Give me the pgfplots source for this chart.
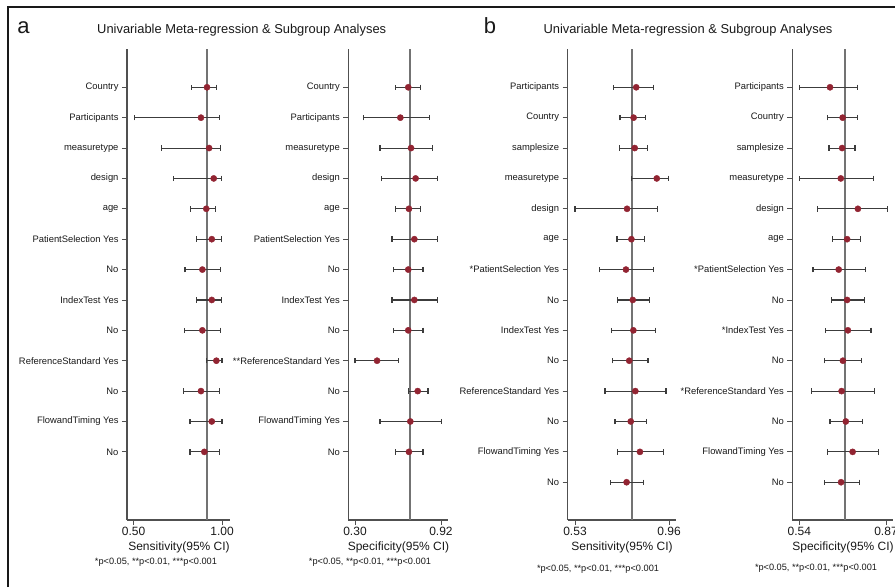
\documentclass[border=0pt]{standalone}
\usepackage{pgfplots}
\pgfplotsset{compat=1.18}
\usepackage{pgfplotstable}
\usepackage{fontspec}
\setmainfont{Liberation Sans}
\definecolor{mkred}{RGB}{146,36,50}
\definecolor{ebgray}{RGB}{60,60,60}
\definecolor{axgray}{RGB}{80,80,80}
\definecolor{refgray}{RGB}{115,115,115}
\definecolor{txt}{RGB}{25,25,25}

\pgfplotstableread{
row est lo hi
1 0.915 0.829 0.968
2 0.881 0.505 0.985
3 0.927 0.659 0.993
4 0.953 0.725 0.996
5 0.911 0.823 0.964
6 0.942 0.857 0.999
7 0.889 0.791 0.990
8 0.942 0.857 0.999
9 0.889 0.787 0.990
10 0.968 0.911 1.000
11 0.881 0.784 0.985
12 0.942 0.819 1.000
13 0.900 0.819 0.987
}\tabAsens
\pgfplotstableread{
row est lo hi
1 0.684 0.591 0.774
2 0.627 0.360 0.836
3 0.704 0.480 0.857
4 0.737 0.492 0.894
5 0.689 0.591 0.774
6 0.728 0.567 0.894
7 0.684 0.576 0.790
8 0.728 0.567 0.894
9 0.684 0.576 0.790
10 0.459 0.300 0.612
11 0.752 0.687 0.826
12 0.699 0.480 0.922
13 0.689 0.591 0.790
}\tabAspec
\pgfplotstableread{
row est lo hi
1 0.810 0.705 0.887
2 0.798 0.736 0.853
3 0.803 0.733 0.861
4 0.904 0.789 0.958
5 0.768 0.530 0.907
6 0.788 0.722 0.846
7 0.763 0.643 0.887
8 0.794 0.724 0.870
9 0.797 0.698 0.897
10 0.778 0.701 0.864
11 0.806 0.667 0.946
12 0.785 0.713 0.858
13 0.827 0.724 0.934
14 0.766 0.693 0.842
}\tabBsens
\pgfplotstableread{
row est lo hi
1 0.657 0.540 0.760
2 0.705 0.648 0.760
3 0.703 0.653 0.752
4 0.698 0.540 0.822
5 0.763 0.610 0.875
6 0.722 0.666 0.772
7 0.690 0.592 0.793
8 0.722 0.661 0.787
9 0.725 0.639 0.813
10 0.706 0.637 0.777
11 0.701 0.586 0.827
12 0.717 0.657 0.780
13 0.743 0.648 0.840
14 0.699 0.635 0.768
}\tabBspec

\pgfplotsset{
  forest/.style={
    anchor=south west, scale only axis, height=470.5pt,
    ymin=-15.243, ymax=0.244,
    axis x line*=bottom, axis y line*=left,
    axis line style={draw=axgray, line width=1.2pt, -},
    tick align=outside, major tick length=5pt,
    tick style={draw=axgray, line width=0.9pt},
    every tick label/.append style={text=txt},
    yticklabel style={font=\fontsize{9.4}{10}\selectfont},
    xticklabel style={font=\fontsize{12}{13}\selectfont, inner sep=2pt},
    /pgf/number format/assume math mode=true,
    clip=false,
  },
  pts/.style={only marks, mark=*, mark size=3.1pt, mark options={fill=mkred, draw=mkred},
    error bars/.cd, x dir=both, x explicit,
    error bar style={draw=ebgray, line width=1.1pt},
    error mark options={rotate=90, draw=ebgray, mark size=2.7pt, line width=1.1pt}},
}

\begin{document}
\begin{tikzpicture}
\path[use as bounding box] (0pt,0pt) rectangle (895pt,587pt);
\draw[draw=txt, line width=1.2pt] (8pt,0pt) -- (8pt,580pt) -- (895pt,580pt);

\node[anchor=base, font=\fontsize{22}{24}\selectfont, text=txt] at (23.5pt,553.5pt) {a};
\node[anchor=base, font=\fontsize{22}{24}\selectfont, text=txt] at (490pt,553.5pt) {b};
\node[anchor=base, font=\fontsize{12.9}{14}\selectfont, text=txt] at (241.7pt,553.7pt) {Univariable Meta-regression \& Subgroup Analyses};
\node[anchor=base, font=\fontsize{12.9}{14}\selectfont, text=txt] at (688pt,553.7pt) {Univariable Meta-regression \& Subgroup Analyses};

% Panel a sensitivity
\begin{axis}[forest, at={(127pt,67pt)}, width=103pt,
  xmin=0.463, xmax=1.045, xtick={0.5,1.0}, xticklabels={0.50,1.00},
  ytick={-1,-2,...,-13},
  yticklabels={Country,Participants,measuretype,design,age,PatientSelection Yes,No,IndexTest Yes,No,ReferenceStandard Yes,No,FlowandTiming Yes,No}]
\addplot[draw=refgray, line width=1.8pt] coordinates {(0.914,-15.243) (0.914,0.244)};
\addplot[pts] table[x=est, y expr=-\thisrow{row}, x error plus expr=\thisrow{hi}-\thisrow{est}, x error minus expr=\thisrow{est}-\thisrow{lo}] {\tabAsens};
\end{axis}

% Panel a specificity
\begin{axis}[forest, at={(348.3pt,67pt)}, width=99.7pt,
  xmin=0.2517, xmax=0.9705, xtick={0.3,0.92}, xticklabels={0.30,0.92},
  ytick={-1,-2,...,-13},
  yticklabels={Country,Participants,measuretype,design,age,PatientSelection Yes,No,IndexTest Yes,No,**ReferenceStandard Yes,No,FlowandTiming Yes,No}]
\addplot[draw=refgray, line width=1.8pt] coordinates {(0.697,-15.243) (0.697,0.244)};
\addplot[pts] table[x=est, y expr=-\thisrow{row}, x error plus expr=\thisrow{hi}-\thisrow{est}, x error minus expr=\thisrow{est}-\thisrow{lo}] {\tabAspec};
\end{axis}

% Panel b sensitivity
\begin{axis}[forest, at={(567.7pt,67pt)}, width=108pt,
  xmin=0.4966, xmax=0.9906, xtick={0.53,0.96}, xticklabels={0.53,0.96},
  ytick={-1,-2,...,-14},
  yticklabels={Participants,Country,samplesize,measuretype,design,age,*PatientSelection Yes,No,IndexTest Yes,No,ReferenceStandard Yes,No,FlowandTiming Yes,No}]
\addplot[draw=refgray, line width=1.8pt] coordinates {(0.789,-15.243) (0.789,0.244)};
\addplot[pts] table[x=est, y expr=-\thisrow{row}, x error plus expr=\thisrow{hi}-\thisrow{est}, x error minus expr=\thisrow{est}-\thisrow{lo}] {\tabBsens};
\end{axis}

% Panel b specificity
\begin{axis}[forest, at={(792.3pt,67pt)}, width=100.4pt,
  xmin=0.5134, xmax=0.8955, xtick={0.54,0.87}, xticklabels={0.54,0.87},
  ytick={-1,-2,...,-14},
  yticklabels={Participants,Country,samplesize,measuretype,design,age,*PatientSelection Yes,No,*IndexTest Yes,No,*ReferenceStandard Yes,No,FlowandTiming Yes,No}]
\addplot[draw=refgray, line width=1.8pt] coordinates {(0.713,-15.243) (0.713,0.244)};
\addplot[pts] table[x=est, y expr=-\thisrow{row}, x error plus expr=\thisrow{hi}-\thisrow{est}, x error minus expr=\thisrow{est}-\thisrow{lo}] {\tabBspec};
\end{axis}

% axis titles and footnotes
\begin{scope}[every node/.style={anchor=base, text=txt}]
\node[font=\fontsize{12}{13}\selectfont] at (179pt,36.5pt) {Sensitivity(95\% CI)};
\node[font=\fontsize{12}{13}\selectfont] at (398.5pt,36.5pt) {Specificity(95\% CI)};
\node[font=\fontsize{12}{13}\selectfont] at (622pt,36.5pt) {Sensitivity(95\% CI)};
\node[font=\fontsize{12}{13}\selectfont] at (843pt,36.5pt) {Specificity(95\% CI)};
\node[font=\fontsize{9.2}{10}\selectfont] at (156pt,23pt) {*p<0.05, **p<0.01, ***p<0.001};
\node[font=\fontsize{9.2}{10}\selectfont] at (370pt,22.5pt) {*p<0.05, **p<0.01, ***p<0.001};
\node[font=\fontsize{9.2}{10}\selectfont] at (598pt,16pt) {*p<0.05, **p<0.01, ***p<0.001};
\node[font=\fontsize{9.2}{10}\selectfont] at (816pt,16.5pt) {*p<0.05, **p<0.01, ***p<0.001};
\end{scope}
\end{tikzpicture}
\end{document}
